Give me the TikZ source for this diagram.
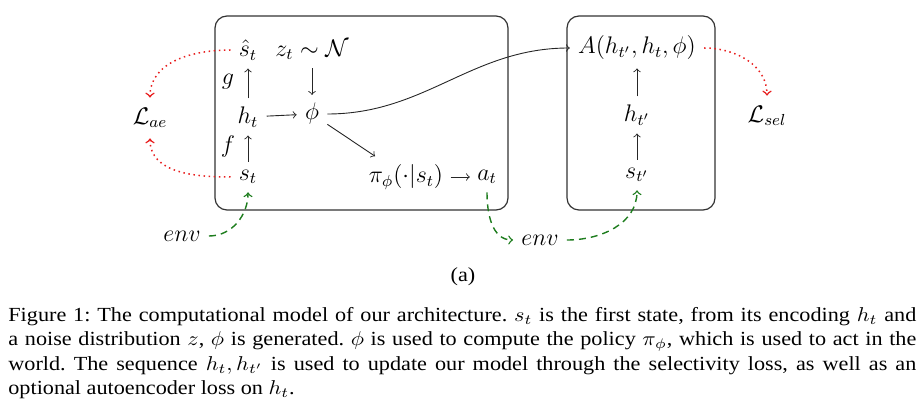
\documentclass[tikz,border=0pt]{standalone}
\usepackage{graphicx}
\usepackage{fontspec}
\newfontfamily\capfont{Liberation Serif}
\definecolor{lossred}{RGB}{232,30,30}
\definecolor{envgreen}{RGB}{30,125,30}
\tikzset{
  cell/.style={inner sep=4pt, font=\fontsize{11.5}{14}\selectfont},
  lab/.style={inner sep=1pt, font=\fontsize{11.5}{14}\selectfont},
  map/.style={-to, draw=black!85, line width=0.45pt},
  loss/.style={-to, draw=lossred, line width=0.75pt, dash pattern=on 0.75pt off 1.8pt},
  envline/.style={-to, draw=envgreen, line width=0.7pt, dash pattern=on 3.5pt off 2.5pt},
  panel/.style={draw=black!80, line width=0.6pt, rounded corners=6pt},
}
\begin{document}
\begin{tikzpicture}[x=0.5pt,y=-0.5pt]
\useasboundingbox (0,0) rectangle (924,410);
% panels
\draw[panel] (215,16) rectangle (508,210);
\draw[panel] (567,16) rectangle (715,210);
% left panel cells
\node[cell] (shat) at (248,50) {$\hat{s}_t$};
\node[cell] (z) at (312,50) {$z_t\sim\mathcal{N}$};
\node[cell] (h) at (248,117) {$h_t$};
\node[cell] (phi) at (312,114) {$\phi$};
\node[cell] (s) at (248,177) {$s_t$};
\node[cell, inner xsep=3.5pt] (pi) at (406,177) {$\pi_\phi(\cdot|s_t)$};
\node[cell, inner xsep=3.5pt] (at) at (487,177) {$a_t$};
\node[lab] (g) at (228,82) {$g$};
\node[lab] (f) at (228,147) {$f$};
% right panel cells
\node[cell] (A) at (637,48) {$A(h_{t'},h_t,\phi)$};
\node[cell] (h2) at (637,115) {$h_{t'}$};
\node[cell] (s2) at (637,175) {$s_{t'}$};
% outside
\node[cell, inner sep=5pt] (Lae) at (150,118) {$\mathcal{L}_{ae}$};
\node[cell, inner sep=5pt] (Lsel) at (767,116) {$\mathcal{L}_{sel}$};
\node[cell] (envL) at (182,236) {$env$};
\node[cell] (envR) at (540,240) {$env$};
% black maps
\draw[map] (h) -- (shat);
\draw[map] (s) -- (h);
\draw[map] (h) -- (phi);
\draw[map] (z) -- (phi);
\draw[map] (phi) -- (pi);
\draw[map] (pi) -- (at);
\draw[map] (phi.east) to[out=0,in=180] (A.west);
\draw[map] (h2) -- (A);
\draw[map] (s2) -- (h2);
% losses
\draw[loss] (shat.west) to[out=180,in=90] (Lae.north);
\draw[loss] (s.west) to[out=180,in=-90] (Lae.south);
\draw[loss] (A.east) to[out=0,in=90] (Lsel.north);
% environment
\draw[envline] (envL.east) to[out=0,in=-90] (s.south);
\draw[envline] (at.south) to[out=-90,in=180] (envR.west);
\draw[envline] (envR.east) to[out=0,in=-90] (s2.south);
% caption
\node[font=\capfont\fontsize{10}{12}\selectfont] (sub) at (463,277) {\scalebox{1.11}[1]{(a)}};
\node[anchor=north west, inner sep=0pt,
      font=\capfont\fontsize{10}{12.25}\selectfont\frenchspacing] (cap) at (8,307)
{\scalebox{1.11}[1]{\parbox[t]{409pt}{Figure 1: The computational model of our architecture. $s_t$ is the first state, from its encoding $h_t$ and\linebreak
a noise distribution $z$, $\phi$ is generated. $\phi$ is used to compute the policy $\pi_\phi$, which is used to act in the\linebreak
world. The sequence $h_t, h_{t'}$ is used to update our model through the selectivity loss, as well as an\linebreak
optional autoencoder loss on $h_t$.}}};
\end{tikzpicture}
\end{document}
